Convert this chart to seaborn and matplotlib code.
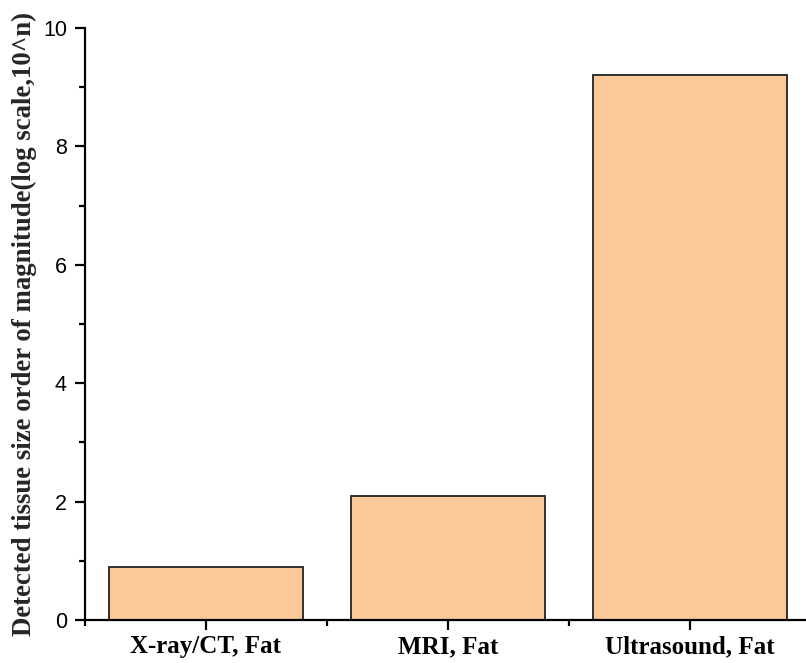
import matplotlib
matplotlib.use("Agg")
import matplotlib.pyplot as plt
from matplotlib.ticker import MultipleLocator, FixedLocator
import seaborn as sns
import pandas as pd

categories = ["X-ray/CT, Fat", "MRI, Fat", "Ultrasound, Fat"]
magnitudes = [0.9, 2.1, 9.2]
y_label = "Detected tissue size order of magnitude(log scale,10^n)"

df = pd.DataFrame({"modality": categories, "magnitude": magnitudes})

sns.set_theme(style="ticks")
plt.rcParams["font.family"] = ["Liberation Sans", "DejaVu Sans"]

fig = plt.figure(figsize=(8.06, 6.63), dpi=100)
ax = fig.add_axes([85 / 806, 43 / 663, 726 / 806, 592 / 663])

sns.barplot(data=df, x="modality", y="magnitude", ax=ax, width=0.8,
            color="#FBC899", saturation=1, edgecolor="#222222", linewidth=1.3)

ax.set_xlim(-0.5, 2.5)
ax.set_ylim(0, 10)
ax.yaxis.set_major_locator(MultipleLocator(2))
ax.yaxis.set_minor_locator(MultipleLocator(1))
ax.xaxis.set_minor_locator(FixedLocator([-0.5, 0.5, 1.5, 2.5]))

for side in ("top", "right"):
    ax.spines[side].set_visible(False)
for side in ("left", "bottom"):
    ax.spines[side].set_linewidth(1.6)
    ax.spines[side].set_color("black")

ax.tick_params(axis="both", which="major", direction="out", length=7, width=1.6,
               color="black", labelcolor="black")
ax.tick_params(axis="both", which="minor", direction="out", length=4, width=1.6,
               color="black")
ax.tick_params(axis="y", labelsize=15.5, pad=6)
ax.tick_params(axis="x", labelsize=18, pad=4)
for lbl in ax.get_xticklabels():
    lbl.set_fontfamily("Liberation Serif")
    lbl.set_fontweight("bold")

ax.set_xlabel("")
ax.set_ylabel(y_label, fontsize=19.3, fontweight="bold", family="Liberation Serif",
              labelpad=4)

fig.savefig("out.png", dpi=100)
